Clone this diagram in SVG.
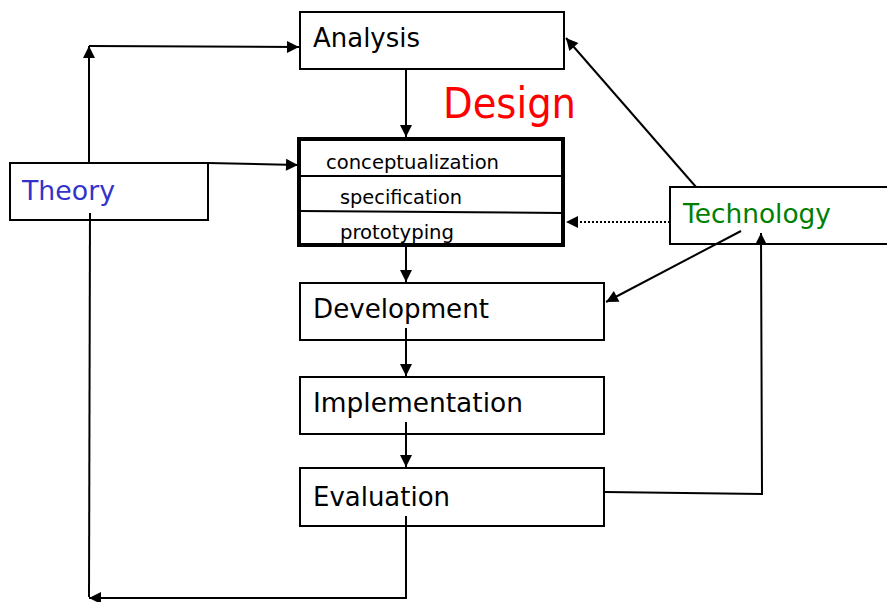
<svg xmlns="http://www.w3.org/2000/svg" width="887" height="602" viewBox="0 0 887 602">
<style>
.box{fill:#fff;stroke:#000;stroke-width:2}
.thick{fill:#fff;stroke:#000;stroke-width:4}
.t{font-family:"DejaVu Sans",Verdana,sans-serif;font-size:27px;fill:#000}
.s{font-family:"DejaVu Sans",Verdana,sans-serif;font-size:20px;fill:#000}
.c{fill:none;stroke:#000;stroke-width:2}
.d{fill:none;stroke:#000;stroke-width:2;stroke-dasharray:2 2}
</style>
<defs>
<marker id="a" viewBox="0 0 12 12" refX="12" refY="6" markerWidth="12" markerHeight="12" orient="auto" markerUnits="userSpaceOnUse" overflow="visible">
<path d="M0,0 L12,6 L0,12 z" fill="#000"/>
</marker>
</defs>
<g id="analysis">
<rect class="box" x="300" y="12" width="264" height="57"/>
<text class="t" x="313" y="47" textLength="107" lengthAdjust="spacingAndGlyphs">Analysis</text>
</g>
<g id="design-label">
<text x="443" y="118" font-family="DejaVu Sans,Verdana,sans-serif" font-size="43" fill="#ff0000" textLength="133" lengthAdjust="spacingAndGlyphs">Design</text>
</g>
<g id="design">
<rect class="thick" x="299" y="139" width="264" height="106"/>
<line x1="299" y1="176" x2="563" y2="176" stroke="#000" stroke-width="2"/>
<line x1="299" y1="211" x2="563" y2="213" stroke="#000" stroke-width="2"/>
<text class="s" x="326" y="169" textLength="173" lengthAdjust="spacingAndGlyphs">conceptualization</text>
<text class="s" x="340" y="204" textLength="122" lengthAdjust="spacingAndGlyphs">specification</text>
<text class="s" x="340" y="239" textLength="114" lengthAdjust="spacingAndGlyphs">prototyping</text>
</g>
<g id="theory">
<rect class="box" x="10" y="163" width="198" height="57"/>
<text class="t" x="22" y="200" style="fill:#3333cc" textLength="93" lengthAdjust="spacingAndGlyphs">Theory</text>
</g>
<g id="technology">
<rect class="box" x="670" y="187" width="220" height="57"/>
<text class="t" x="683" y="223" style="fill:#008000" textLength="148" lengthAdjust="spacingAndGlyphs">Technology</text>
</g>
<g id="development">
<rect class="box" x="300" y="283" width="304" height="57"/>
<text class="t" x="313" y="318" textLength="176" lengthAdjust="spacingAndGlyphs">Development</text>
</g>
<g id="implementation">
<rect class="box" x="300" y="377" width="304" height="57"/>
<text class="t" x="313" y="412" textLength="210" lengthAdjust="spacingAndGlyphs">Implementation</text>
</g>
<g id="evaluation">
<rect class="box" x="300" y="468" width="304" height="58"/>
<text class="t" x="313" y="506" textLength="137" lengthAdjust="spacingAndGlyphs">Evaluation</text>
</g>
<g id="connectors">
<path class="c" d="M406,69 L406,137" marker-end="url(#a)"/>
<path class="c" d="M406,247 L406,282" marker-end="url(#a)"/>
<path class="c" d="M406,328 L406,376" marker-end="url(#a)"/>
<path class="c" d="M406,422 L406,467" marker-end="url(#a)"/>
<path class="c" d="M406,516 L406,598 L89,598" marker-end="url(#a)"/>
<path class="c" d="M90,213 L89,597"/>
<path class="c" d="M89,163 L89,46" marker-end="url(#a)"/>
<path class="c" d="M89,46 L299,47" marker-end="url(#a)"/>
<path class="c" d="M208,163 L298,165" marker-end="url(#a)"/>
<path class="c" d="M696,187 L566,38" marker-end="url(#a)"/>
<path class="d" d="M670,222 L566,222" marker-end="url(#a)"/>
<path class="c" d="M741,231 L606,302" marker-end="url(#a)"/>
<path class="c" d="M605,492 L762,494 L761,233" marker-end="url(#a)"/>
</g>
</svg>
